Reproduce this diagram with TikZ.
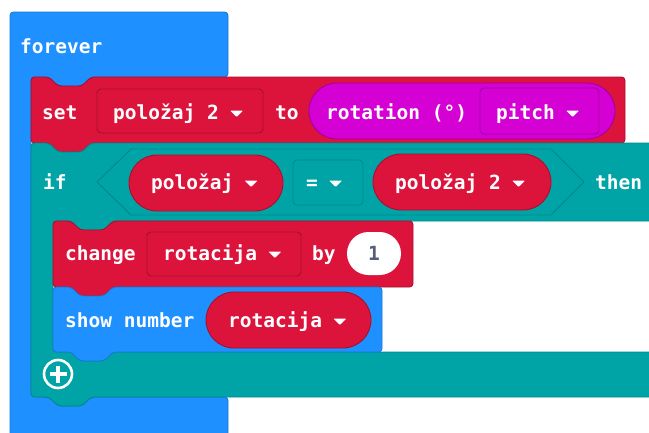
\documentclass[tikz,border=0pt]{standalone}
\usepackage{fontspec}
\usetikzlibrary{calc}
\newfontfamily\blkfont{DejaVu Sans Mono}
\definecolor{mbblue}{HTML}{1E90FF}
\definecolor{mbbluedk}{HTML}{1A78D6}
\definecolor{mbred}{HTML}{DC143C}
\definecolor{mbreddk}{HTML}{A80F2E}
\definecolor{mbteal}{HTML}{00A4A6}
\definecolor{mbtealdk}{HTML}{00888A}
\definecolor{mbmag}{HTML}{D400D4}
\definecolor{mbmagdk}{HTML}{A000A0}
\definecolor{numgrey}{HTML}{575E75}
\newcommand\ddtri[1]{\fill[white, rounded corners=0.8pt] ($(#1.base east)+(11,-8.5)$) -- ++(13,0) -- ++(-6.5,6.5) -- cycle;}
\begin{document}
\begin{tikzpicture}[x=1pt,y=-1pt,
  blkshape/.style={line width=0.9pt, rounded corners=3.5pt, line join=round},
  field/.style={line width=0.9pt, rounded corners=4pt},
  lbl/.style={font=\blkfont\bfseries\fontsize{19.5}{20}\selectfont, text=white, inner sep=0pt, anchor=base west}]
\useasboundingbox (0,0) rectangle (649,432);
\begin{scope}
\clip (0,0) rectangle (649,432);
% forever block
\draw[blkshape, fill=mbblue, draw=mbbluedk] (10,12) -- (228,12) -- (228,77) -- (91,77) -- (82,86) -- (58,86) -- (49,77) -- (31,77) -- (31,397) -- (49,397) -- (58,406) -- (82,406) -- (91,397) -- (228,397) -- (228,450) -- (10,450) -- cycle;
% set block
\draw[blkshape, fill=mbred, draw=mbreddk] (31,77) -- (49,77) -- (58,86) -- (82,86) -- (91,77) -- (625,77) -- (625,143) -- (91,143) -- (82,152) -- (58,152) -- (49,143) -- (31,143) -- cycle;
% if block
\draw[blkshape, fill=mbteal, draw=mbtealdk] (31,143) -- (49,143) -- (58,152) -- (82,152) -- (91,143) -- (670,143) -- (670,221) -- (113,221) -- (104,230) -- (80,230) -- (71,221) -- (53,221) -- (53,352) -- (71,352) -- (80,361) -- (104,361) -- (113,352) -- (670,352) -- (670,397) -- (91,397) -- (82,406) -- (58,406) -- (49,397) -- (31,397) -- cycle;
% change block
\draw[blkshape, fill=mbred, draw=mbreddk] (53,221) -- (71,221) -- (80,230) -- (104,230) -- (113,221) -- (413,221) -- (413,287) -- (113,287) -- (104,296) -- (80,296) -- (71,287) -- (53,287) -- cycle;
% show number block
\draw[blkshape, fill=mbblue, draw=mbbluedk] (53,287) -- (71,287) -- (80,296) -- (104,296) -- (113,287) -- (382,287) -- (382,352) -- (113,352) -- (104,361) -- (80,361) -- (71,352) -- (53,352) -- cycle;
% fields of set
\draw[field, fill=mbred, draw=mbreddk] (97,89) rectangle (263,133);
\draw[line width=0.9pt, rounded corners=28pt, fill=mbmag, draw=mbmagdk] (309,83) rectangle (615,139);
\draw[field, fill=mbmag, draw=mbmagdk] (480,88) rectangle (599,134);
% condition
\draw[line width=0.9pt, line join=round, fill=mbteal, draw=mbtealdk] (97,182) -- (131,149) -- (551,149) -- (584,182) -- (551,215) -- (131,215) -- cycle;
\draw[line width=0.9pt, rounded corners=28pt, fill=mbred, draw=mbreddk] (129,155) rectangle (283,211);
\draw[field, fill=mbteal, draw=mbtealdk] (293,160) rectangle (363,205);
\draw[line width=0.9pt, rounded corners=28pt, fill=mbred, draw=mbreddk] (373,154) rectangle (551,210);
% fields of change
\draw[field, fill=mbred, draw=mbreddk] (147,232) rectangle (301,276);
\fill[white, rounded corners=21.5pt] (347,232) rectangle (401,275);
% field of show number
\draw[line width=0.9pt, rounded corners=28pt, fill=mbred, draw=mbreddk] (206,292) rectangle (371,348);
% plus icon
\draw[white, line width=2.6pt] (58,374) circle (14);
\draw[white, line width=4.5pt] (49.5,374) -- (66.5,374) (58,365.5) -- (58,382.5);
\end{scope}
% texts
\node[lbl] (tforever) at (20,53) {forever};
\node[lbl] (tset) at (42,119) {set};
\node[lbl] (tvarA) at (113,119) {položaj 2}; \ddtri{tvarA}
\node[lbl] (tto) at (275,119) {to};
\node[lbl] (trot) at (326,119) {rotation (°)};
\node[lbl] (tpitch) at (496,119) {pitch}; \ddtri{tpitch}
\node[lbl] (tif) at (43,189) {if};
\node[lbl] (tpol) at (151,189) {položaj}; \ddtri{tpol}
\node[lbl] (teq) at (306,189) {=}; \ddtri{teq}
\node[lbl] (tpolB) at (395,189) {položaj 2}; \ddtri{tpolB}
\node[lbl] (tthen) at (595,189) {then};
\node[lbl] (tchange) at (65,260) {change};
\node[lbl] (trotA) at (163,260) {rotacija}; \ddtri{trotA}
\node[lbl] (tby) at (312,260) {by};
\node[lbl, text=numgrey, anchor=base] (tone) at (374,260) {1};
\node[lbl] (tshow) at (65,327) {show number};
\node[lbl] (trotB) at (228,327) {rotacija}; \ddtri{trotB}
\end{tikzpicture}
\end{document}
